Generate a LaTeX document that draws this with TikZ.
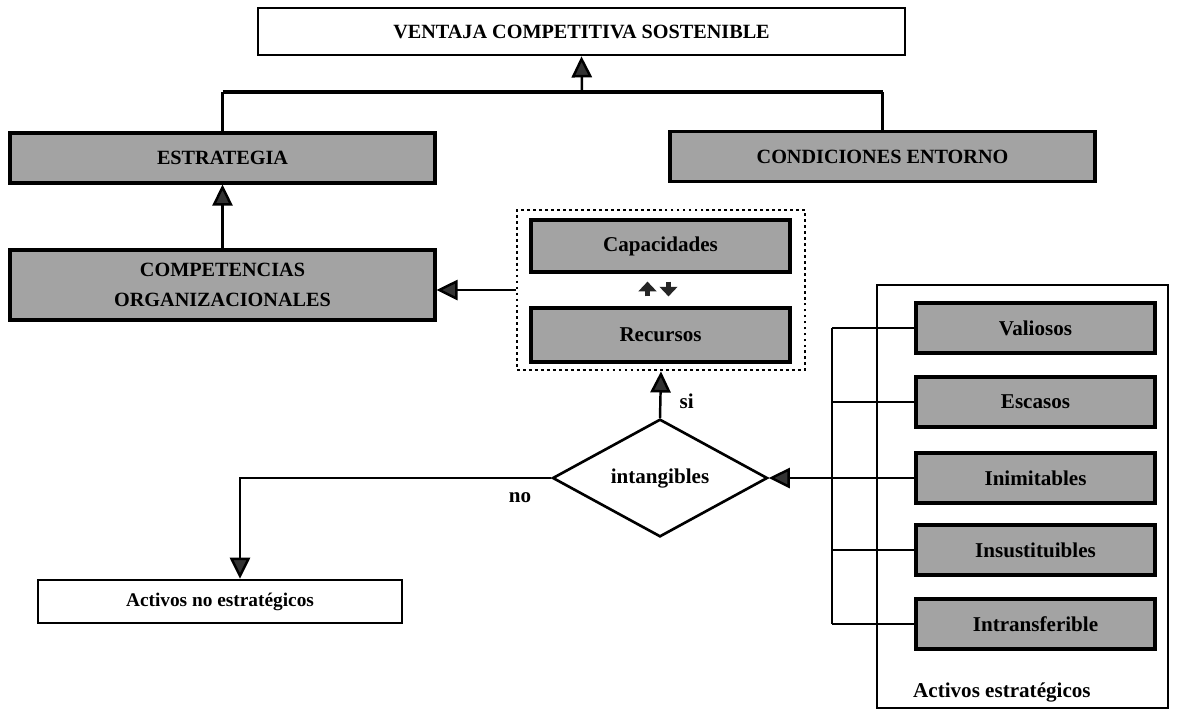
\documentclass[tikz,border=0pt]{standalone}
\usepackage{fontspec}
\setmainfont{Liberation Serif}
\usetikzlibrary{arrows.meta,shapes.geometric,calc}
\begin{document}
\begin{tikzpicture}[x=0.02cm,y=-0.02cm,
    every node/.style={font=\bfseries\fontsize{12}{14}\selectfont},
    caps/.style={font=\bfseries\fontsize{11.5}{17}\selectfont},
    graybox/.style={draw,line width=1.8pt,fill=black!36,minimum width=8.5cm,minimum height=1cm,inner sep=2pt},
    whitebox/.style={draw,line width=1.5pt,fill=white,inner sep=2pt},
    tri/.style={-{Triangle[length=12pt,width=11.5pt,fill=black!80]},line width=1.4pt},
    swaparr/.style={-{Triangle[length=5.5pt,width=10pt]},line width=3.2pt,black!85},
    link/.style={line width=1.2pt}]
  \useasboundingbox (0,0) rectangle (1185,718);
  % upper part
  \node[whitebox,caps,minimum width=12.94cm,minimum height=0.94cm] (vent) at (581.5,31.5) {VENTAJA COMPETITIVA SOSTENIBLE};
  \node[graybox,caps] (estr) at (222.5,158) {ESTRATEGIA};
  \node[graybox,caps] (cond) at (882.5,156.5) {CONDICIONES ENTORNO};
  \node[graybox,caps,minimum height=1.4cm,align=center] (comp) at (222.5,285) {COMPETENCIAS\\ORGANIZACIONALES};
  \coordinate (jn) at (582,92);
  \draw[link] (estr.north) -- (estr.north |- jn);
  \draw[link] (cond.north) -- (cond.north |- jn);
  \draw[line width=2pt] (estr.north |- jn) -- (cond.north |- jn);
  \draw[tri] (jn) -- (vent.south);
  \draw[tri] (comp.north) -- (estr.south);
  % recursos y capacidades
  \node[draw,line width=1.6pt,dash pattern=on 1.6pt off 1.8pt,minimum width=5.76cm,minimum height=3.2cm] (grp) at (661,290) {};
  \node[graybox,minimum width=5.18cm,minimum height=1.04cm] (capa) at (660.5,246) {Capacidades};
  \node[graybox,minimum width=5.18cm,minimum height=1.08cm] (recu) at (660.5,335) {Recursos};
  \draw[swaparr] ($(recu.north)+(-13,-10)$) -- ($(capa.south)+(-13,8)$);
  \draw[swaparr] ($(capa.south)+(8,8)$) -- ($(recu.north)+(8,-10)$);
  \draw[tri] (grp.west) -- (grp.west -| comp.east);
  % decision
  \node[draw,diamond,line width=1.5pt,minimum width=4.3cm,minimum height=2.26cm,inner sep=0pt] (dia) at (660,478) {intangibles};
  \node[whitebox,minimum width=7.28cm,minimum height=0.86cm,font=\bfseries\fontsize{11}{13}\selectfont] (noes) at (220,601.5) {Activos no estratégicos};
  \draw[tri] (dia.north) -- node[right=7pt,pos=0.35] {si} (grp.south);
  \draw[tri] (dia.west) -| node[below=4pt,pos=0.05] {no} ([xshift=0.4cm]noes.north);
  % activos estrategicos
  \node[draw,line width=1.5pt,minimum width=5.82cm,minimum height=8.46cm] (act) at (1022.5,496.5) {};
  \node[anchor=west] (actlbl) at (907,692) {Activos estratégicos};
  \foreach \name/\yy/\lab in {val/328/Valiosos,esc/402/Escasos,ini/478/Inimitables,ins/550/Insustituibles,itr/624/Intransferible}
    \node[graybox,minimum width=4.78cm] (\name) at (1035.5,\yy) {\lab};
  \coordinate (bus) at (832,478);
  \foreach \name in {val,esc,ini,ins,itr}
    \draw[link] (\name.west) -- (\name.west -| bus);
  \draw[link] (val.west -| bus) -- (itr.west -| bus);
  \draw[tri] (bus) -- (dia.east);
\end{tikzpicture}
\end{document}
